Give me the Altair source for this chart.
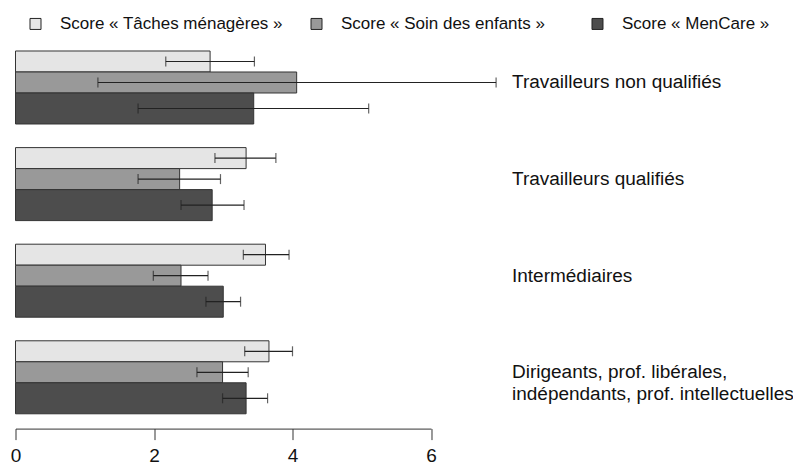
import altair as alt
import pandas as pd

# ---- data ----
categories = [
    "Travailleurs non qualifiés",
    "Travailleurs qualifiés",
    "Intermédiaires",
    "Dirigeants, prof. libérales,\nindépendants, prof. intellectuelles",
]
series = ["Score « Tâches ménagères »", "Score « Soin des enfants »", "Score « MenCare »"]

menage = [2.81, 3.33, 3.61, 3.66]
menage_lo = [2.17, 2.88, 3.29, 3.31]
menage_hi = [3.45, 3.76, 3.95, 4.00]

soin = [4.06, 2.37, 2.39, 2.99]
soin_lo = [1.19, 1.77, 1.99, 2.62]
soin_hi = [6.94, 2.96, 2.78, 3.36]

mencare = [3.44, 2.84, 3.00, 3.33]
mencare_lo = [1.77, 2.39, 2.75, 2.99]
mencare_hi = [5.10, 3.30, 3.25, 3.64]

x_ticks = [0, 2, 4, 6]

# ---- styles ----
colors = ["#e5e5e5", "#999999", "#4d4d4d"]
bar_height = [21, 21, 31]
bar_offset = [-26, -5, 21]
FONT = "Liberation Sans"
INK = "#222222"

rows = []
for s, vals, lo, hi in zip(series, [menage, soin, mencare],
                           [menage_lo, soin_lo, mencare_lo],
                           [menage_hi, soin_hi, mencare_hi]):
    for c, v, l, h in zip(categories, vals, lo, hi):
        rows.append({"cat": c, "serie": s, "val": v, "lo": l, "hi": h})
df = pd.DataFrame(rows)
lab_df = pd.DataFrame({"cat": categories})

W, H = 415.5, 386.4

xsc = alt.Scale(domain=[0, 6], nice=False, zero=True)
ysc = alt.Scale(domain=categories, paddingInner=0, paddingOuter=0)
csc = alt.Scale(domain=series, range=colors)

base = alt.Chart(df)
layers = []
for i, s in enumerate(series):
    sub = base.transform_filter(alt.datum.serie == s)
    enc_y = alt.Y("cat:N", scale=ysc, axis=None, sort=categories)
    if i == 0:
        xenc = alt.X("val:Q", scale=xsc,
                     axis=alt.Axis(values=x_ticks, title=None, grid=False, offset=3,
                                   domainColor="#333333", tickColor="#333333",
                                   tickSize=11, labelFontSize=19, labelFont=FONT,
                                   labelColor="#111111", labelPadding=7,
                                   format="d", labelFlush=False))
    else:
        xenc = alt.X("val:Q", scale=xsc)
    bars = sub.mark_bar(size=bar_height[i], yOffset=bar_offset[i],
                        stroke="#333333", strokeWidth=1).encode(
        x=xenc,
        y=enc_y,
        color=alt.Color("serie:N", scale=csc,
                        legend=alt.Legend(
                            title=None, orient="none", legendX=11.5, legendY=-24,
                            direction="horizontal", columns=3, gridAlign="all",
                            columnPadding=24, padding=0, labelLimit=0,
                            symbolType="square", symbolSize=121,
                            symbolStrokeColor=INK, symbolStrokeWidth=1,
                            labelFontSize=17, labelFont=FONT, labelColor="#111111",
                            labelOffset=16)),
    )
    rule = sub.mark_rule(yOffset=bar_offset[i], color=INK, strokeWidth=1.2).encode(
        x=alt.X("lo:Q", scale=xsc), x2="hi:Q", y=enc_y)
    cap_lo = sub.mark_tick(yOffset=bar_offset[i], color=INK, thickness=1.2,
                           size=10, orient="vertical").encode(
        x=alt.X("lo:Q", scale=xsc), y=enc_y)
    cap_hi = sub.mark_tick(yOffset=bar_offset[i], color=INK, thickness=1.2,
                           size=10, orient="vertical").encode(
        x=alt.X("hi:Q", scale=xsc), y=enc_y)
    layers += [bars, rule, cap_lo, cap_hi]

labels = alt.Chart(lab_df).mark_text(
    align="left", baseline="middle", fontSize=19, font=FONT, color="#111111",
    lineBreak="\n", lineHeight=22, yOffset=-5
).encode(
    y=alt.Y("cat:N", scale=ysc, axis=None, sort=categories),
    x=alt.value(496.5),
    text="cat:N",
)
layers.append(labels)

chart = alt.layer(*layers).properties(
    width=W, height=H,
    background="white",
    autosize=alt.AutoSizeParams(type="none"),
    padding={"left": 7.5, "top": 31.2, "right": 362, "bottom": 40},
).configure_view(strokeWidth=0, stroke="transparent")

chart.save("out.html", embed_options={"renderer": "svg", "actions": False})
